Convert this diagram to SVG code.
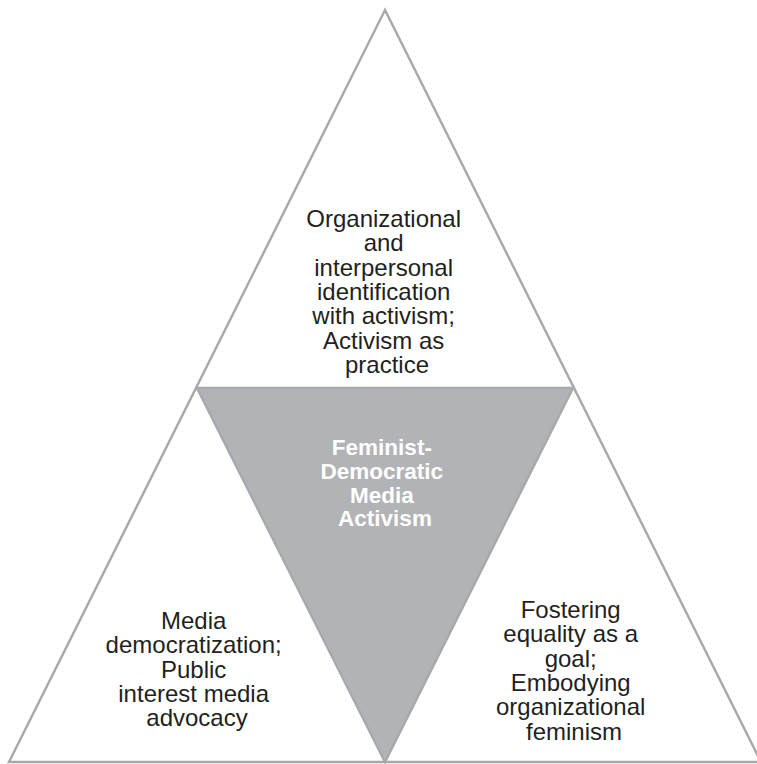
<svg xmlns="http://www.w3.org/2000/svg" width="757" height="764" viewBox="0 0 757 764">
  <style>
    .edge { fill: none; stroke: #a7a9ac; stroke-width: 2.5; stroke-linejoin: miter; }
    .core { fill: #b2b3b6; stroke: #a7a9ac; stroke-width: 2.5; }
    .lbl { font-family: "Liberation Sans", Arial, sans-serif; font-size: 24px; fill: #231f20; text-anchor: middle; }
    .core-lbl { font-family: "Liberation Sans", Arial, sans-serif; font-size: 22.5px; font-weight: bold; fill: #ffffff; text-anchor: middle; }
  </style>
  <rect width="757" height="764" fill="#ffffff"/>

  <!-- outer triangle outline -->
  <g id="outline">
    <path class="edge" d="M385,10 L9,762 L761,762 Z"/>
  </g>

  <!-- central inverted triangle -->
  <g id="center">
    <path class="core" d="M197,388 L573,388 L385,762 Z"/>
    <text class="core-lbl">
      <tspan x="385" y="455">Feminist-</tspan>
      <tspan x="385" y="479">Democratic</tspan>
      <tspan x="385" y="502.5">Media</tspan>
      <tspan x="385" y="526">Activism</tspan>
    </text>
  </g>

  <!-- top segment -->
  <g id="top">
    <text class="lbl">
      <tspan x="387" y="227">Organizational</tspan>
      <tspan x="387" y="251.3">and</tspan>
      <tspan x="387" y="275.6">interpersonal</tspan>
      <tspan x="387" y="299.9">identification</tspan>
      <tspan x="387" y="324.2">with activism;</tspan>
      <tspan x="387" y="348.5">Activism as</tspan>
      <tspan x="387" y="372.8">practice</tspan>
    </text>
  </g>

  <!-- left segment -->
  <g id="left">
    <text class="lbl">
      <tspan x="197" y="629">Media</tspan>
      <tspan x="197" y="653.3">democratization;</tspan>
      <tspan x="197" y="677.6">Public</tspan>
      <tspan x="197" y="701.9">interest media</tspan>
      <tspan x="197" y="726.2">advocacy</tspan>
    </text>
  </g>

  <!-- right segment -->
  <g id="right">
    <text class="lbl">
      <tspan x="574" y="618">Fostering</tspan>
      <tspan x="574" y="642.3">equality as a</tspan>
      <tspan x="574" y="666.6">goal;</tspan>
      <tspan x="574" y="690.9">Embodying</tspan>
      <tspan x="574" y="715.2">organizational</tspan>
      <tspan x="574" y="739.5">feminism</tspan>
    </text>
  </g>

  <!-- no connectors in this figure -->
  <g id="connectors"/>
</svg>
